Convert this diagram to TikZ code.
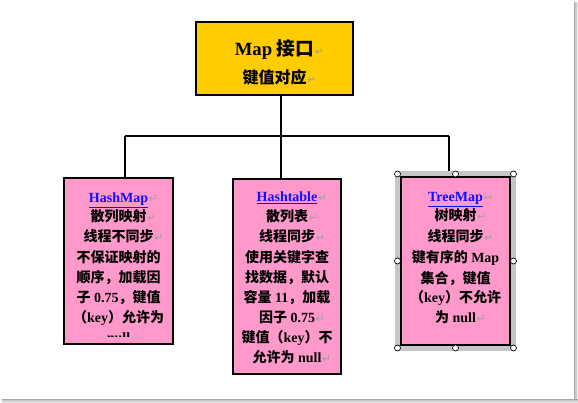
\documentclass[tikz,border=0pt]{standalone}
\usepackage{fontspec}
\setmainfont{Liberation Serif}
\newfontfamily\cjk{Noto Sans CJK SC}
\newfontfamily\dvs{DejaVu Sans}
\newcommand\C[1]{{\cjk #1}}
\newcommand\pmk{\rlap{\hspace{0.6pt}\textcolor{gray!75}{\dvs\mdseries\fontsize{8}{8}\selectfont ↵}}}
\definecolor{gold}{HTML}{FFCC00}
\definecolor{pinkf}{HTML}{FF99CC}
\definecolor{linkb}{HTML}{1010FF}
\begin{document}
\begin{tikzpicture}[x=0.75pt,y=-0.75pt,
  topbox/.style={draw=black, line width=1.4pt, fill=gold, inner sep=0pt, outer sep=0pt},
  pinkbox/.style={draw=black, line width=0.9pt, fill=pinkf, inner sep=0pt, outer sep=0pt},
  tl/.style={anchor=base, inner sep=0pt, font=\bfseries\fontsize{10.5}{12}\selectfont},
  conn/.style={draw=black, line width=0.8pt},
  handle/.style={draw=black, fill=white, line width=0.5pt},
  lnk/.style={text=linkb}]
\useasboundingbox (0,0) rectangle (578,403);
\fill[white] (0,0) rectangle (578,403);
% shadow edges
\fill[gray!70] (573.5,2) rectangle (575,403);
\fill[gray!40] (575,2) rectangle (576.5,403);
\fill[gray!15] (576.5,2) rectangle (578,403);
\fill[gray!70] (2,398.5) rectangle (578,400);
\fill[gray!40] (2,400) rectangle (578,401.5);
\fill[gray!15] (2,401.5) rectangle (578,403);

% boxes
\node[topbox, minimum width=117.75pt, minimum height=54.75pt] (top) at (274.5,58.5) {};
\node[pinkbox, minimum width=81.75pt, minimum height=124.5pt] (hm) at (118.5,261) {};
\node[pinkbox, minimum width=81pt, minimum height=146.25pt] (ht) at (287,276.5) {};
% selection frame of the right box
\fill[gray!45] (395,171) rectangle (516,351);
\node[pinkbox, minimum width=81.75pt, minimum height=126pt] (tm) at (455.5,261) {};
\foreach \hx/\hy in {397.5/174, 455.5/174, 513.5/174, 397.5/261, 513.5/261, 397.5/348, 455.5/348, 513.5/348}
  \draw[handle] (\hx,\hy) circle[radius=3];

% connectors
\coordinate (jm) at (281,136);
\coordinate (jl) at (125,136);
\coordinate (jr) at (449,136);
\coordinate (fr) at (449,171);
\draw[conn] (top.south -| jm) -- (jm);
\draw[conn] (jl) -- (jr);
\draw[conn] (jl) -- (jl |- hm.north);
\draw[conn] (jm) -- (jm |- ht.north);
\draw[conn] (jr) -- (fr);

% top text
\node[tl, font=\bfseries\fontsize{14}{16}\selectfont] (t1) at (274.5,56) {Map \C{接口}\pmk};
\node[tl, font=\bfseries\fontsize{12}{14}\selectfont] (t2) at (274.5,84) {\C{键值对应}\pmk};

% HashMap
\node[tl,lnk] (a1) at (118.5,202) {\underline{HashMap}\pmk};
\node[tl] (a2) at (118.5,221) {\C{散列映射}\pmk};
\node[tl] (a3) at (118.5,241) {\C{线程不同步}\pmk};
\node[tl] (a4) at (118.5,262) {\C{不保证映射的}};
\node[tl] (a5) at (118.5,282) {\C{顺序，加载因}};
\node[tl] (a6) at (118.5,302) {\C{子} 0.75\C{，键值}};
\node[tl] (a7) at (118.5,322) {\C{（}key\C{）允许为}};
\begin{scope}
\clip (64,328) rectangle (173,336.5);
\node[tl] (a8) at (118.5,342) {null\pmk};
\end{scope}

% Hashtable
\node[tl,lnk] (b1) at (287,201) {\underline{Hashtable}\pmk};
\node[tl] (b2) at (287,221) {\C{散列表}\pmk};
\node[tl] (b3) at (287,241) {\C{线程同步}\pmk};
\node[tl] (b4) at (287,262) {\C{使用关键字查}};
\node[tl] (b5) at (287,282) {\C{找数据，默认}};
\node[tl] (b6) at (287,302) {\C{容量} 11\C{，加载}};
\node[tl] (b7) at (287,322) {\C{因子} 0.75\pmk};
\node[tl] (b8) at (287,342) {\C{键值（}key\C{）不}};
\node[tl] (b9) at (287,362) {\C{允许为} null\pmk};

% TreeMap
\node[tl,lnk] (c1) at (455.5,201) {\underline{TreeMap}\pmk};
\node[tl] (c2) at (455.5,220) {\C{树映射}\pmk};
\node[tl] (c3) at (455.5,241) {\C{线程同步}\pmk};
\node[tl] (c4) at (455.5,262) {\C{键有序的} Map};
\node[tl] (c5) at (455.5,283) {\C{集合，键值}};
\node[tl] (c6) at (455.5,302) {\C{（}key\C{）不允许}};
\node[tl] (c7) at (455.5,322) {\C{为} null\pmk};
\end{tikzpicture}
\end{document}
